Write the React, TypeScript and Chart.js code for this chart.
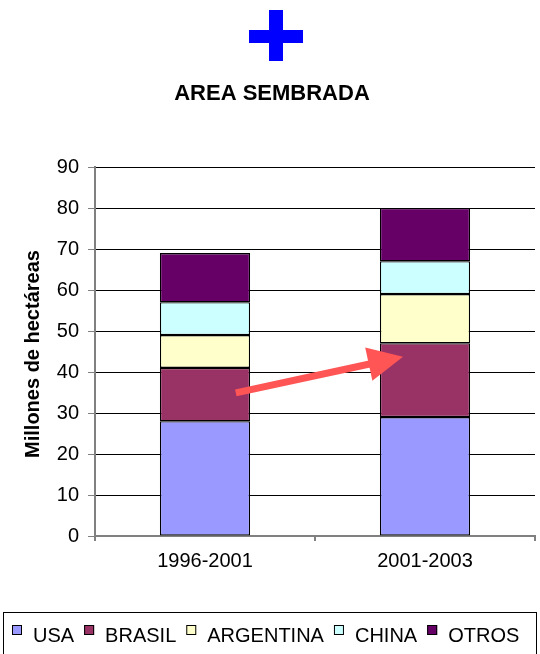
import React, { useEffect, useRef } from "react";
import { Chart, registerables } from "chart.js";

Chart.register(...registerables);

const categories = ["1996-2001", "2001-2003"];
const seriesNames = ["USA", "BRASIL", "ARGENTINA", "CHINA", "OTROS"];
const usa = [28, 29];
const brasil = [13, 18];
const argentina = [8, 12];
const china = [8, 8];
const otros = [12, 13];
const seriesColors = ["#9999FF", "#993366", "#FFFFCC", "#CCFFFF", "#660066"];
const yTicks = [0, 10, 20, 30, 40, 50, 60, 70, 80, 90];
const titleText = "AREA SEMBRADA";
const yTitle = "Millones de hectáreas";
// arrow annotation in data terms: [category index offset, value]
const arrowStart = [0.14, 34.9];
const arrowEnd = [0.9, 43.7];

const FONT = "'Liberation Sans', Arial, sans-serif";

const decorPlugin = {
  id: "decor",
  afterDraw(chart: any) {
    const ctx = chart.ctx as CanvasRenderingContext2D;
    const xs = chart.scales.x;
    const ys = chart.scales.y;
    ctx.save();
    // plus sign
    ctx.fillStyle = "#0000FF";
    ctx.fillRect(249, 30, 54, 13);
    ctx.fillRect(269, 10, 14, 51);
    // title
    ctx.fillStyle = "#000";
    ctx.font = `bold 22px ${FONT}`;
    ctx.textAlign = "center";
    ctx.textBaseline = "middle";
    ctx.fillText(titleText, 272, 94);
    // y title
    ctx.save();
    ctx.translate(33, 354);
    ctx.rotate(-Math.PI / 2);
    ctx.font = `bold 20px ${FONT}`;
    ctx.fillText(yTitle, 0, 0);
    ctx.restore();

    // arrow
    const step = xs.getPixelForValue(1) - xs.getPixelForValue(0);
    const x0 = xs.getPixelForValue(0) + arrowStart[0] * step;
    const y0 = ys.getPixelForValue(arrowStart[1]);
    const x1 = xs.getPixelForValue(0) + arrowEnd[0] * step;
    const y1 = ys.getPixelForValue(arrowEnd[1]);
    const ang = Math.atan2(y1 - y0, x1 - x0);
    const headLen = 35;
    const headW = 34;
    const bx = x1 - headLen * Math.cos(ang);
    const by = y1 - headLen * Math.sin(ang);
    ctx.strokeStyle = "#FF5555";
    ctx.fillStyle = "#FF5555";
    ctx.lineWidth = 7;
    ctx.beginPath();
    ctx.moveTo(x0, y0);
    ctx.lineTo(bx + 2 * Math.cos(ang), by + 2 * Math.sin(ang));
    ctx.stroke();
    ctx.beginPath();
    ctx.moveTo(x1, y1);
    ctx.lineTo(bx - (headW / 2) * Math.sin(ang), by + (headW / 2) * Math.cos(ang));
    ctx.lineTo(bx + (headW / 2) * Math.sin(ang), by - (headW / 2) * Math.cos(ang));
    ctx.closePath();
    ctx.fill();

    // legend
    ctx.strokeStyle = "#000";
    ctx.lineWidth = 1;
    ctx.strokeRect(3.5, 612.5, 533, 60);
    ctx.font = `20px ${FONT}`;
    ctx.textAlign = "left";
    ctx.textBaseline = "alphabetic";
    let x = 12;
    chart.data.datasets.forEach((ds: any) => {
      ctx.fillStyle = ds.backgroundColor;
      ctx.fillRect(x, 625, 10, 10);
      ctx.strokeStyle = "#000";
      ctx.strokeRect(x + 0.5, 625.5, 9, 9);
      x += 21;
      ctx.fillStyle = "#000";
      ctx.fillText(ds.label, x, 642);
      x += ctx.measureText(ds.label).width + 10;
    });
    ctx.restore();
  },
};

export default function App() {
  const ref = useRef<HTMLCanvasElement>(null);
  useEffect(() => {
    const values = [usa, brasil, argentina, china, otros];
    const chart = new Chart(ref.current!, {
      type: "bar",
      data: {
        labels: categories,
        datasets: seriesNames.map((n, i) => ({
          label: n,
          data: values[i],
          backgroundColor: seriesColors[i],
          borderColor: "#000",
          borderWidth: 1.3,
          borderSkipped: false,
          barPercentage: 0.41,
          categoryPercentage: 1,
        })),
      },
      options: {
        animation: false,
        responsive: false,
        events: [],
        layout: { padding: { top: 167, right: 5, left: 0, bottom: 78 } },
        plugins: { legend: { display: false }, tooltip: { enabled: false }, title: { display: false } },
        scales: {
          x: {
            stacked: true,
            afterFit: (s: any) => { s.height = 40; },
            grid: { display: true, drawOnChartArea: false, offset: true, tickLength: 5, color: "#808080", lineWidth: 2 },
            border: { color: "#808080", width: 2 },
            ticks: { color: "#000", font: { family: FONT, size: 20 }, padding: 8 },
          },
          y: {
            stacked: true,
            min: 0,
            max: 90,
            afterFit: (s: any) => { s.width = 95; },
            afterBuildTicks: (s: any) => { s.ticks = yTicks.map((v) => ({ value: v })); },
            grid: { color: "#000", lineWidth: 1, tickLength: 7, tickColor: "#808080" },
            border: { color: "#808080", width: 2 },
            ticks: { color: "#000", font: { family: FONT, size: 20 }, padding: 9 },
          },
        },
      },
      plugins: [decorPlugin],
    });
    return () => chart.destroy();
  }, []);
  return (
    <div style={{ position: "absolute", left: 0, top: 0, width: 540, height: 654 }}>
      <canvas ref={ref} width={540} height={654} style={{ width: 540, height: 654 }} />
    </div>
  );
}
